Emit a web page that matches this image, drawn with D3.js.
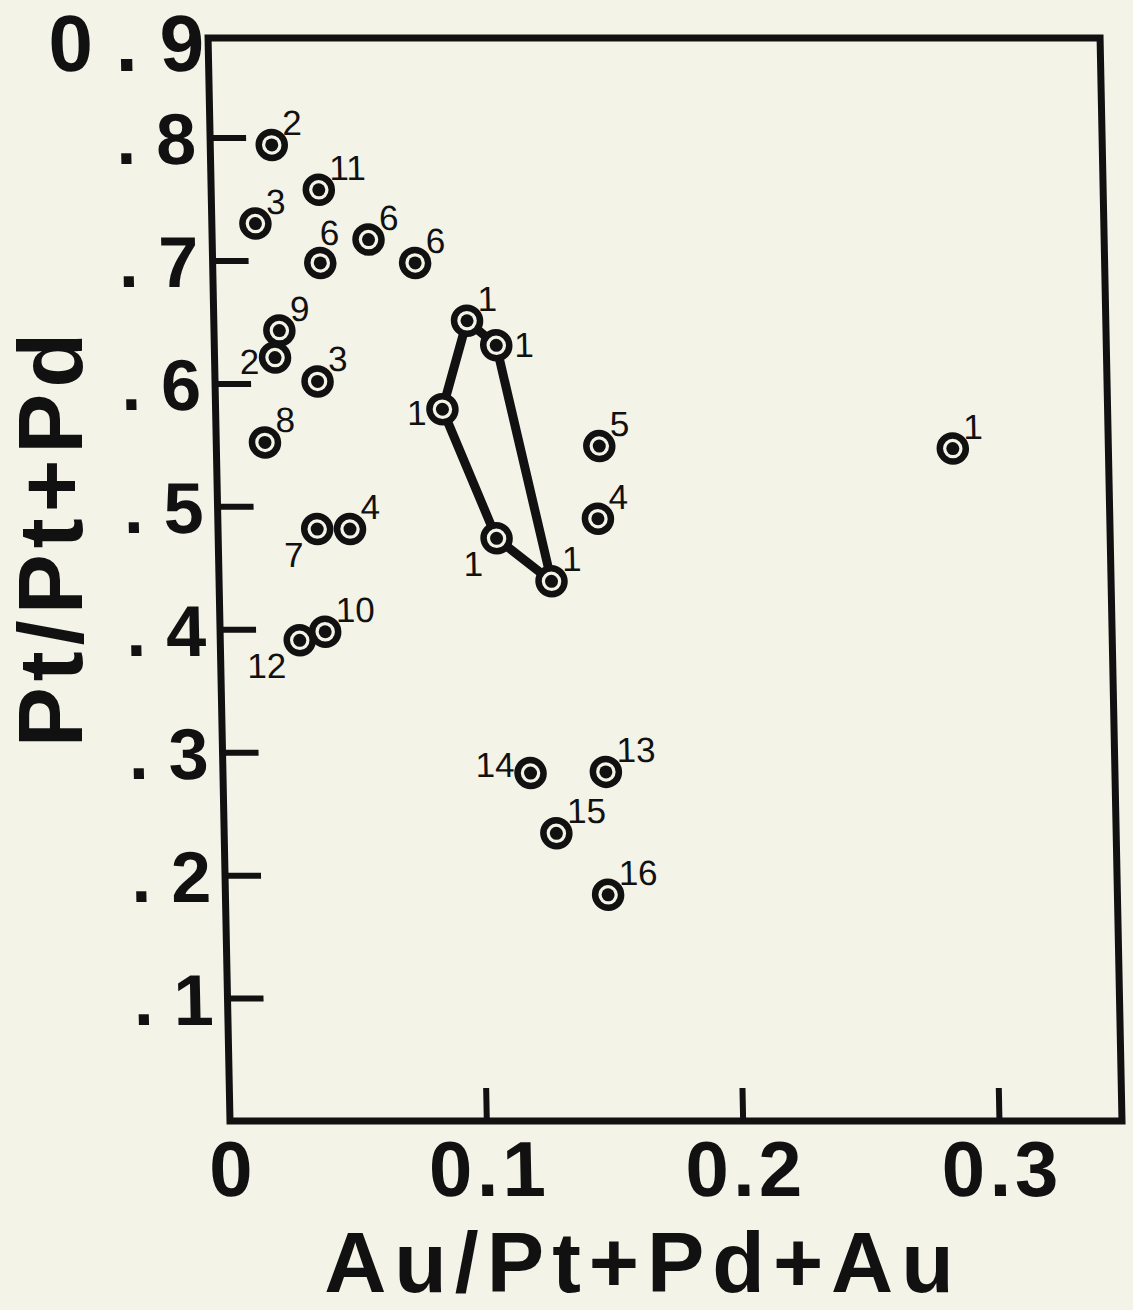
<!DOCTYPE html>
<html>
<head>
<meta charset="utf-8">
<script src="https://cdn.jsdelivr.net/npm/d3@7"></script>
<style>
  body { margin: 0; background: #f4f3e7; }
  svg { display: block; }
  text { font-family: "Liberation Sans", Arial, Helvetica, sans-serif; fill: #111; }
</style>
</head>
<body>
<script>
// sample numbers and ratios
var sampleIds = ["2", "11", "3", "6", "6", "6", "9", "2", "3", "8", "7", "4", "12", "10",
                 "1", "1", "1", "1", "1", "5", "4", "14", "13", "15", "16", "1"];
var auRatio = [0.024, 0.042, 0.017, 0.042, 0.061, 0.079, 0.0255, 0.0236, 0.040, 0.019, 0.0387, 0.0515, 0.031, 0.041,
               0.0988, 0.110, 0.1297, 0.1086, 0.0885, 0.1494, 0.1483, 0.120, 0.1494, 0.1296, 0.1493, 0.2873];
var ptRatio = [0.794, 0.7575, 0.730, 0.698, 0.717, 0.698, 0.643, 0.621, 0.6016, 0.552, 0.4815, 0.4815, 0.391, 0.398,
               0.651, 0.631, 0.439, 0.474, 0.579, 0.549, 0.490, 0.283, 0.284, 0.234, 0.184, 0.547];
var labelSide = ["ur", "ur", "ur", "u", "ur", "ur", "ur", "l", "ur", "ur", "ll", "ur", "ll", "ur",
                 "ur", "r", "ur", "ll", "l", "ur", "ur", "ul", "ur", "ur", "ur", "ur"];
// the outlined group of sample 1 points (index into the arrays above, in path order)
var outlineOrder = [14, 15, 16, 17, 18];

var xTicks = [0, 0.1, 0.2, 0.3],
    xTickLabels = ["0", "0.1", "0.2", "0.3"];
var yTicks = [0.1, 0.2, 0.3, 0.4, 0.5, 0.6, 0.7, 0.8],
    yTickLabels = [". 1", ". 2", ". 3", ". 4", ". 5", ". 6", ". 7", ". 8"],
    yTopLabel = "0 . 9";

var xTitle = "Au/Pt+Pd+Au",
    yTitle = "Pt/Pt+Pd";

// set up canvas
var canvasWidth = 1133,
    canvasHeight = 1310,
    plot = {left: 230, right: 1122, top: 38, bottom: 1121},
    ink = "#111",
    paper = "#f4f3e7";

var svg = d3.select("body")
    .append("svg")
        .attr("width", canvasWidth)
        .attr("height", canvasHeight);

svg.append("rect")
    .attr("width", canvasWidth)
    .attr("height", canvasHeight)
    .attr("fill", paper);

var x = d3.scaleLinear()
        .domain([0, 0.348])
        .range([plot.left, plot.right]);
var y = d3.scaleLinear()
        .domain([0, 0.881])
        .range([plot.bottom, plot.top]);

// the scanned page is slightly sheared, so lean the plot the same way
var figure = svg.append("g")
    .attr("transform", "translate(0," + plot.bottom + ") skewX(1.16) translate(0," + (-plot.bottom) + ")");

// frame
figure.append("rect")
    .attr("x", x.range()[0])
    .attr("y", y.range()[1])
    .attr("width", x.range()[1] - x.range()[0])
    .attr("height", y.range()[0] - y.range()[1])
    .attr("fill", "none")
    .attr("stroke", ink)
    .attr("stroke-width", 7);

// y axis
var yAxis = figure.append("g")
    .attr("transform", "translate(" + plot.left + ",0)")
    .call(d3.axisLeft(y)
        .tickValues(yTicks)
        .tickSize(-36)
        .tickPadding(14)
        .tickFormat(function(d, i) { return yTickLabels[i]; }));
yAxis.select(".domain").remove();
yAxis.selectAll(".tick line").attr("stroke", ink).attr("stroke-width", 6);
yAxis.selectAll(".tick text")
    .attr("fill", ink)
    .attr("dy", "0.36em")
    .style("font-size", "72px")
    .style("font-weight", "bold");
yAxis.attr("font-family", null).attr("font-size", null);

figure.append("text")
    .attr("x", plot.left - 4)
    .attr("y", y.range()[1] + 4)
    .attr("dy", "0.36em")
    .attr("text-anchor", "end")
    .style("font-size", "80px")
    .style("font-weight", "bold")
    .text(yTopLabel);

// x axis
var xAxis = figure.append("g")
    .attr("transform", "translate(0," + plot.bottom + ")")
    .call(d3.axisBottom(x)
        .tickValues(xTicks.slice(1))
        .tickSize(-33)
        .tickFormat(""));
xAxis.select(".domain").remove();
xAxis.selectAll(".tick line").attr("stroke", ink).attr("stroke-width", 6);

figure.append("g")
    .selectAll("text")
    .data(xTicks)
    .enter()
    .append("text")
    .attr("x", function(d) { return x(d) + 2; })
    .attr("y", plot.bottom + 75)
    .attr("text-anchor", "middle")
    .style("font-size", "78px")
    .style("font-weight", "bold")
    .style("letter-spacing", "4px")
    .text(function(d, i) { return xTickLabels[i]; });

// outline around the sample 1 cluster
var outline = d3.line()
    .x(function(i) { return x(auRatio[i]); })
    .y(function(i) { return y(ptRatio[i]); })
    .curve(d3.curveLinearClosed);

figure.append("path")
    .attr("d", outline(outlineOrder))
    .attr("fill", "none")
    .attr("stroke", ink)
    .attr("stroke-width", 9)
    .attr("stroke-linejoin", "round");

// the points
var points = figure.append("g")
    .attr("class", "points")
    .selectAll("g")
    .data(sampleIds.map(function(id, i) {
        return {id: id, x: auRatio[i], y: ptRatio[i], side: labelSide[i]}; }))
    .enter()
    .append("g")
    .attr("transform", function(d) { return "translate(" + x(d.x) + "," + y(d.y) + ")"; });

points.append("circle")
    .attr("r", 13)
    .attr("fill", paper)
    .attr("stroke", ink)
    .attr("stroke-width", 6.5);
points.append("circle")
    .attr("r", 6.5)
    .attr("fill", ink);

var offsets = {
    ur: {dx: 11, dy: -10, anchor: "start"},
    u:  {dx: 0,  dy: -18, anchor: "start"},
    r:  {dx: 18, dy: 12,  anchor: "start"},
    l:  {dx: -16, dy: 16, anchor: "end"},
    ul: {dx: -16, dy: 4,  anchor: "end"},
    ll: {dx: -14, dy: 38, anchor: "end"}
};

points.append("text")
    .attr("x", function(d) { return offsets[d.side].dx; })
    .attr("y", function(d) { return offsets[d.side].dy; })
    .attr("text-anchor", function(d) { return offsets[d.side].anchor; })
    .style("font-size", "35px")
    .text(function(d) { return d.id; });

// axis titles
svg.append("text")
    .attr("x", 643)
    .attr("y", 1292)
    .attr("text-anchor", "middle")
    .style("font-size", "86px")
    .style("font-weight", "bold")
    .style("letter-spacing", "8px")
    .text(xTitle);

svg.append("text")
    .attr("transform", "translate(82,537) rotate(-90)")
    .attr("text-anchor", "middle")
    .style("font-size", "90px")
    .style("font-weight", "bold")
    .style("letter-spacing", "6px")
    .text(yTitle);
</script>
</body>
</html>
